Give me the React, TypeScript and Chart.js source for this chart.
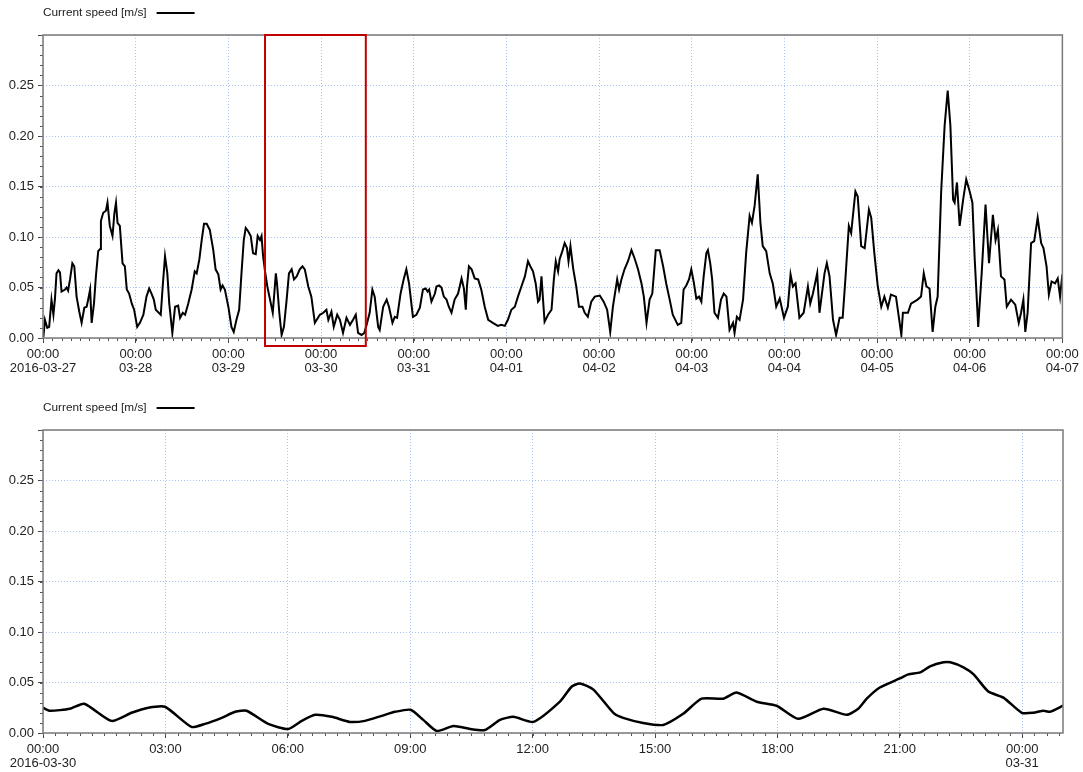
import React, { useEffect, useRef } from 'react';
import { Chart, registerables } from 'chart.js';

Chart.register(...registerables);

const seriesLabel = 'Current speed [m/s]';

// Overview: hours since 2016-03-27 00:00
const topHours = [
  0.1, 0.5, 1.1, 1.6, 2.2, 2.7, 3.1, 3.5, 4.0, 4.4, 4.8, 5.7, 6.1, 6.5, 7.0, 7.6, 8.1, 8.7, 9.4, 10.0,
  10.7, 11.3, 11.7, 12.2, 12.6, 13.2, 13.7, 14.3, 14.8, 15.0, 15.6, 16.3, 16.7, 17.3, 18.0, 18.5, 18.9, 19.3, 19.9, 20.6,
  21.2, 21.7, 22.3, 23.0, 23.6, 24.4, 25.1, 26.0, 26.8, 27.5, 28.1, 28.7, 29.2, 30.5, 31.0, 31.6, 32.2, 32.7, 33.5, 34.2,
  35.0, 35.5, 36.2, 36.8, 37.6, 38.5, 39.3, 39.8, 40.5, 41.1, 41.7, 42.4, 43.2, 44.1, 44.7, 45.4, 46.0, 46.5, 47.1, 48.0,
  48.8, 49.4, 50.1, 50.8, 51.4, 52.0, 52.5, 53.1, 53.8, 54.4, 55.1, 55.6, 56.2, 56.6, 57.0, 57.5, 58.1, 58.8, 59.5, 59.9,
  60.3, 60.6, 61.2, 61.8, 62.4, 63.1, 63.7, 64.4, 65.0, 65.7, 66.5, 67.2, 67.8, 68.7, 69.5, 70.4, 71.7, 72.6, 73.4, 73.9,
  74.7, 75.3, 76.2, 76.9, 77.7, 78.6, 79.5, 80.3, 81.0, 81.6, 82.5, 83.2, 83.8, 84.6, 85.3, 85.9, 86.8, 87.2, 88.1, 89.0,
  89.6, 90.5, 91.1, 91.7, 92.6, 93.4, 94.1, 94.8, 95.8, 96.7, 97.6, 98.4, 99.1, 99.6, 100.0, 100.6, 101.5, 101.9, 102.6, 103.2,
  103.8, 104.5, 105.1, 105.8, 106.6, 107.5, 108.4, 109.0, 109.5, 109.8, 110.3, 111.0, 111.8, 112.7, 113.5, 114.4, 115.3, 116.5, 117.8, 118.7,
  119.6, 120.4, 121.3, 122.2, 123.0, 123.9, 124.8, 125.6, 126.2, 126.9, 127.6, 128.2, 128.6, 129.1, 129.5, 129.9, 130.8, 131.7, 132.3, 132.8,
  133.4, 133.8, 134.5, 135.1, 135.7, 136.1, 136.6, 137.3, 138.1, 138.8, 139.7, 140.3, 141.1, 142.0, 142.9, 144.2, 145.2, 146.1, 146.9, 147.6,
  148.7, 149.2, 149.8, 150.6, 151.5, 152.4, 153.2, 154.1, 155.0, 155.6, 156.3, 157.1, 157.8, 158.7, 159.7, 160.6, 161.4, 162.3, 163.1, 164.4,
  165.3, 165.9, 166.6, 167.3, 167.9, 168.5, 169.2, 169.9, 170.5, 171.1, 171.8, 172.2, 172.8, 173.3, 173.9, 174.8, 175.6, 176.3, 177.0, 177.8,
  178.7, 179.1, 179.7, 180.4, 181.3, 182.1, 183.0, 183.6, 184.3, 185.1, 185.8, 186.4, 187.3, 188.2, 189.0, 189.9, 190.8, 191.9, 192.9, 193.6,
  194.2, 194.9, 195.9, 197.0, 198.1, 198.7, 199.4, 200.5, 201.1, 202.4, 203.0, 203.7, 204.6, 205.4, 206.3, 207.1, 207.8, 208.7, 209.3, 210.4,
  211.0, 211.9, 212.8, 213.9, 214.5, 215.3, 216.2, 217.1, 217.9, 218.8, 219.6, 220.9, 222.3, 222.7, 224.0, 224.8, 226.5, 227.4, 228.1, 228.8,
  229.6, 230.4, 231.1, 231.7, 232.6, 233.5, 234.3, 235.0, 235.7, 236.1, 236.7, 237.4, 238.3, 239.1, 240.0, 240.7, 241.3, 242.2, 243.1, 244.1,
  245.0, 246.0, 246.7, 247.3, 248.1, 249.0, 249.6, 250.7, 251.8, 252.7, 253.3, 253.9, 254.4, 255.0, 255.9, 256.7, 257.6, 258.5, 259.1, 259.9,
  260.5, 261.2, 262.1, 262.8, 263.4, 264.0,
];
const topSpeed = [
  0.001, 0.018, 0.010, 0.011, 0.038, 0.023, 0.039, 0.064, 0.067, 0.065, 0.046, 0.048, 0.050, 0.047, 0.058, 0.074, 0.071, 0.041, 0.026, 0.015,
  0.030, 0.031, 0.038, 0.048, 0.015, 0.034, 0.061, 0.086, 0.088, 0.116, 0.124, 0.126, 0.134, 0.111, 0.101, 0.124, 0.134, 0.114, 0.111, 0.074,
  0.071, 0.048, 0.044, 0.034, 0.028, 0.011, 0.015, 0.023, 0.041, 0.049, 0.044, 0.038, 0.028, 0.023, 0.051, 0.081, 0.064, 0.034, 0.005, 0.031,
  0.032, 0.020, 0.025, 0.023, 0.034, 0.048, 0.066, 0.064, 0.078, 0.097, 0.113, 0.113, 0.107, 0.087, 0.068, 0.063, 0.048, 0.052, 0.048, 0.031,
  0.011, 0.006, 0.018, 0.028, 0.064, 0.097, 0.109, 0.106, 0.101, 0.084, 0.083, 0.101, 0.097, 0.101, 0.081, 0.066, 0.051, 0.038, 0.025, 0.044,
  0.064, 0.054, 0.025, 0.003, 0.011, 0.038, 0.064, 0.068, 0.058, 0.061, 0.068, 0.071, 0.068, 0.051, 0.041, 0.015, 0.023, 0.025, 0.028, 0.018,
  0.026, 0.011, 0.023, 0.018, 0.005, 0.020, 0.013, 0.018, 0.023, 0.005, 0.003, 0.005, 0.013, 0.025, 0.048, 0.041, 0.011, 0.008, 0.031, 0.038,
  0.031, 0.015, 0.021, 0.020, 0.044, 0.058, 0.068, 0.054, 0.021, 0.023, 0.030, 0.048, 0.049, 0.046, 0.048, 0.036, 0.044, 0.051, 0.052, 0.050,
  0.041, 0.038, 0.031, 0.025, 0.038, 0.044, 0.059, 0.049, 0.028, 0.051, 0.071, 0.068, 0.059, 0.058, 0.048, 0.031, 0.018, 0.015, 0.012, 0.013,
  0.012, 0.018, 0.028, 0.031, 0.041, 0.051, 0.061, 0.076, 0.071, 0.066, 0.054, 0.036, 0.038, 0.061, 0.038, 0.016, 0.023, 0.028, 0.058, 0.076,
  0.066, 0.078, 0.086, 0.094, 0.089, 0.076, 0.091, 0.069, 0.051, 0.031, 0.031, 0.025, 0.021, 0.036, 0.041, 0.042, 0.036, 0.028, 0.006, 0.031,
  0.058, 0.048, 0.058, 0.068, 0.076, 0.087, 0.079, 0.068, 0.054, 0.041, 0.015, 0.038, 0.044, 0.087, 0.087, 0.071, 0.054, 0.038, 0.023, 0.013,
  0.015, 0.048, 0.052, 0.058, 0.068, 0.056, 0.039, 0.041, 0.036, 0.061, 0.084, 0.087, 0.074, 0.058, 0.025, 0.020, 0.038, 0.044, 0.041, 0.008,
  0.015, 0.005, 0.021, 0.018, 0.038, 0.084, 0.121, 0.114, 0.131, 0.162, 0.114, 0.091, 0.086, 0.064, 0.054, 0.031, 0.039, 0.020, 0.031, 0.063,
  0.051, 0.054, 0.020, 0.025, 0.051, 0.034, 0.044, 0.064, 0.025, 0.064, 0.074, 0.061, 0.018, 0.003, 0.020, 0.020, 0.058, 0.111, 0.104, 0.145,
  0.140, 0.091, 0.089, 0.127, 0.119, 0.084, 0.051, 0.031, 0.041, 0.030, 0.043, 0.041, 0.003, 0.025, 0.025, 0.034, 0.038, 0.041, 0.064, 0.051,
  0.049, 0.006, 0.031, 0.041, 0.144, 0.210, 0.245, 0.210, 0.137, 0.134, 0.154, 0.111, 0.137, 0.157, 0.145, 0.134, 0.078, 0.011, 0.064, 0.132,
  0.074, 0.122, 0.097, 0.107, 0.061, 0.058, 0.031, 0.038, 0.033, 0.015, 0.025, 0.038, 0.006, 0.025, 0.094, 0.096, 0.119, 0.094, 0.089, 0.071,
  0.043, 0.056, 0.054, 0.059, 0.041, 0.063,
];
const topDayLabels = ['2016-03-27', '03-28', '03-29', '03-30', '03-31', '04-01', '04-02', '04-03', '04-04', '04-05', '04-06', '04-07'];
const zoomWindow = [57.5, 83.6];

// Detail: hours since 2016-03-30 00:00
const bottomHours = [
  0, 0.17, 0.66, 1.01, 1.68, 2.17, 2.58, 2.99, 3.64, 3.97, 4.38, 4.71, 4.99, 5.52, 6.01, 6.34, 6.67, 7.08, 7.52, 7.89,
  8.3, 8.63, 9.01, 9.32, 9.65, 10.06, 10.47, 10.83, 11.2, 11.53, 12.02, 12.67, 12.96, 13.16, 13.49, 13.98, 14.22, 14.71, 15.2, 15.69,
  16.14, 16.67, 17.0, 17.49, 17.98, 18.51, 19.13, 19.7, 19.98, 20.19, 20.51, 21.0, 21.21, 21.5, 21.74, 22.07, 22.24, 22.56, 22.81, 23.17,
  23.54, 23.99, 24.27, 24.52, 24.68, 25.0,
];
const bottomSpeed = [
  0.025, 0.022, 0.024, 0.029, 0.012, 0.020, 0.025, 0.026, 0.006, 0.009, 0.015, 0.021, 0.022, 0.009, 0.004, 0.012, 0.018, 0.016, 0.011, 0.012,
  0.017, 0.021, 0.023, 0.013, 0.002, 0.007, 0.004, 0.003, 0.013, 0.016, 0.011, 0.031, 0.046, 0.049, 0.043, 0.020, 0.015, 0.010, 0.008, 0.019,
  0.034, 0.034, 0.040, 0.031, 0.027, 0.014, 0.024, 0.018, 0.024, 0.034, 0.045, 0.054, 0.058, 0.060, 0.066, 0.070, 0.070, 0.065, 0.058, 0.041,
  0.035, 0.020, 0.020, 0.022, 0.021, 0.027,
];
const bottomTimeLabels = ['00:00', '03:00', '06:00', '09:00', '12:00', '15:00', '18:00', '21:00', '00:00'];
const bottomDateLabels = ['2016-03-30', '', '', '', '', '', '', '', '03-31'];

const FONT = '"Liberation Sans", Arial, Helvetica, sans-serif';

function makeDecor(minorStepX: number, box: number[] | null) {
  return {
    id: 'decor',
    afterDraw(chart: any) {
      const { ctx, chartArea: a, scales } = chart;
      const x = scales.x;
      const y = scales.y;
      ctx.save();
      // legend
      const ly = a.top - 22;
      ctx.font = `11.8px ${FONT}`;
      ctx.fillStyle = '#222';
      ctx.textBaseline = 'middle';
      ctx.textAlign = 'left';
      ctx.fillText(seriesLabel, a.left, ly);
      const w = ctx.measureText(seriesLabel).width;
      ctx.beginPath();
      ctx.strokeStyle = '#000';
      ctx.lineWidth = 2;
      ctx.moveTo(a.left + w + 10, ly);
      ctx.lineTo(a.left + w + 48, ly);
      ctx.stroke();
      // minor ticks
      ctx.beginPath();
      ctx.strokeStyle = '#555';
      ctx.lineWidth = 1;
      const n = Math.round((x.max - x.min) / minorStepX);
      for (let i = 0; i <= n; i++) {
        const v = x.min + i * minorStepX;
        if (v > x.max + 1e-9) break;
        const px = Math.round(x.getPixelForValue(v)) + 0.5;
        ctx.moveTo(px, a.bottom);
        ctx.lineTo(px, a.bottom + 3);
      }
      for (let i = 0; i <= 30; i++) {
        const py = Math.round(y.getPixelForValue(i * 0.01)) + 0.5;
        ctx.moveTo(a.left - 3, py);
        ctx.lineTo(a.left, py);
      }
      ctx.stroke();
      // frame
      ctx.strokeStyle = '#7a7a7a';
      ctx.lineWidth = 1.5;
      ctx.strokeRect(a.left, a.top, a.right - a.left, a.bottom - a.top);
      // zoom window
      if (box) {
        const x0 = x.getPixelForValue(box[0]);
        const x1 = x.getPixelForValue(box[1]);
        ctx.strokeStyle = '#c00000';
        ctx.lineWidth = 2;
        ctx.strokeRect(x0, a.top, x1 - x0, a.bottom + 8 - a.top);
      }
      ctx.restore();
    },
  };
}

function buildConfig(opts: {
  hours: number[];
  speed: number[];
  xMax: number;
  step: number;
  minor: number;
  padTop: number;
  axisH: number;
  lineW: number;
  tension: number;
  label: (v: number) => string[];
  box: number[] | null;
}): any {
  const tickFont = { family: FONT, size: 13, lineHeight: 1.1 };
  const gridOpts = { color: '#a6c3f2', lineWidth: 1, drawTicks: true, tickLength: 5, tickColor: '#444', tickWidth: 1 };
  return {
    type: 'line',
    data: {
      datasets: [
        {
          label: seriesLabel,
          data: opts.hours.map((h, i) => ({ x: h, y: opts.speed[i] })),
          borderColor: '#000',
          borderWidth: opts.lineW,
          pointRadius: 0,
          tension: opts.tension,
          fill: false,
        },
      ],
    },
    options: {
      responsive: false,
      animation: false,
      layout: { padding: { top: opts.padTop, right: 20, left: 0, bottom: 0 } },
      plugins: { legend: { display: false }, tooltip: { enabled: false } },
      scales: {
        x: {
          type: 'linear',
          min: 0,
          max: opts.xMax,
          afterFit: (s: any) => {
            s.height = opts.axisH;
          },
          grid: gridOpts,
          border: { display: false, dash: [1, 2] },
          ticks: {
            stepSize: opts.step,
            includeBounds: false,
            autoSkip: false,
            maxRotation: 0,
            minRotation: 0,
            padding: 4,
            color: '#222',
            font: tickFont,
            callback: (v: number) => opts.label(v),
          },
        },
        y: {
          min: 0,
          max: 0.3,
          afterFit: (s: any) => {
            s.width = 43;
          },
          grid: gridOpts,
          border: { display: false, dash: [1, 2] },
          ticks: {
            stepSize: 0.05,
            includeBounds: false,
            padding: 4,
            color: '#222',
            font: tickFont,
            callback: (v: number) => (Math.abs(v - 0.3) < 1e-6 ? '' : Number(v).toFixed(2)),
          },
        },
      },
    },
    plugins: [makeDecor(opts.minor, opts.box)],
  };
}

function ChartCanvas({ config, top }: { config: () => any; top: number }) {
  const ref = useRef<HTMLCanvasElement | null>(null);
  useEffect(() => {
    if (!ref.current) return;
    const chart = new Chart(ref.current, config());
    return () => chart.destroy();
  }, []);
  return (
    <canvas
      ref={ref}
      width={1083}
      height={386}
      style={{ position: 'absolute', left: 0, top, width: 1083, height: 386, display: 'block' }}
    />
  );
}

export default function App() {
  const topConfig = () =>
    buildConfig({
      hours: topHours,
      speed: topSpeed,
      xMax: 264,
      step: 24,
      minor: 2.4,
      padTop: 35,
      axisH: 48,
      lineW: 2,
      tension: 0,
      label: (v) => ['00:00', topDayLabels[Math.round(v / 24)] ?? ''],
      box: zoomWindow,
    });
  const bottomConfig = () =>
    buildConfig({
      hours: bottomHours,
      speed: bottomSpeed,
      xMax: 25,
      step: 3,
      minor: 0.3,
      padTop: 44,
      axisH: 39,
      lineW: 2.5,
      tension: 0.2,
      label: (v) => {
        const i = Math.round(v / 3);
        return [bottomTimeLabels[i] ?? '', bottomDateLabels[i] ?? ''];
      },
      box: null,
    });
  return (
    <div style={{ position: 'absolute', left: 0, top: 0, width: 1083, height: 772, background: '#fff' }}>
      <ChartCanvas config={topConfig} top={0} />
      <ChartCanvas config={bottomConfig} top={386} />
    </div>
  );
}
